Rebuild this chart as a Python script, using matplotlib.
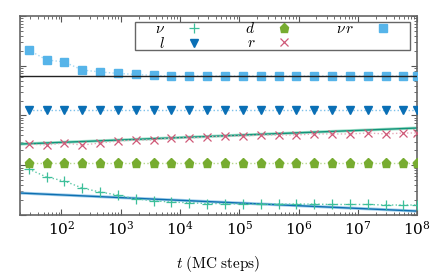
import matplotlib
matplotlib.use("Agg")
import matplotlib.pyplot as plt
from matplotlib.patches import Rectangle
import numpy as np

plt.rcParams['mathtext.fontset'] = 'cm'
plt.rcParams['font.family'] = 'serif'
plt.rcParams['font.serif'] = ['DejaVu Serif']

# data
t = [28, 56, 112, 224, 448, 896, 1792, 3584, 7168, 14336, 28672, 57344,
     114688, 229376, 458752, 917504, 1835008, 3670016, 7340032, 14680064,
     29360128, 58720256, 1e8]

nu_r = [2.07, 1.31, 1.19, 0.82, 0.75, 0.70, 0.667, 0.637, 0.622, 0.622, 0.622, 0.622,
        0.622, 0.622, 0.622, 0.622, 0.622, 0.622, 0.622, 0.622, 0.622, 0.622, 0.622]
l_vals = [0.129] * 23
d_vals = [0.0111] * 23
r_vals = [0.0267, 0.0255, 0.0280, 0.0255, 0.0280, 0.0307, 0.0322, 0.0322, 0.0353, 0.0353,
          0.0370, 0.0388, 0.0388, 0.0406, 0.0406, 0.0406, 0.0426, 0.0426, 0.0426, 0.0445,
          0.0426, 0.0445, 0.0445]
nu_vals = [8.41e-3, 5.81e-3, 4.82e-3, 3.49e-3, 2.90e-3, 2.52e-3, 2.10e-3, 1.94e-3, 1.82e-3,
           1.77e-3, 1.70e-3, 1.70e-3, 1.66e-3, 1.66e-3, 1.66e-3, 1.66e-3, 1.66e-3, 1.63e-3,
           1.63e-3, 1.63e-3, 1.59e-3, 1.59e-3, 1.59e-3]

# reference lines
ref_level = 0.622
fit_t = [20, 1e8]
fit_r = [0.0267, 0.0561]
fit_nu = [2.77e-3, 1.20e-3]

fig = plt.figure(figsize=(4.4, 2.75), dpi=100)
ax = fig.add_axes([0.0455, 0.218, 0.9025, 0.724])

c_nu = '#3dbf9a'
c_l = '#0a6fb5'
c_d = '#77ac30'
c_r = '#cf5a78'
c_nur = '#56b4e9'

ax.axhline(ref_level, color='#222222', lw=1.0, zorder=5)
ax.plot(fit_t, fit_r, color='#9fe0c8', lw=2.2, zorder=2)
ax.plot(fit_t, fit_r, color='#12937a', lw=1.0, zorder=2)
ax.plot(fit_t, fit_nu, color='#9fcdeb', lw=2.2, zorder=2)
ax.plot(fit_t, fit_nu, color='#0d6fb0', lw=1.0, zorder=2)

ax.plot(t, nu_vals, ls=':', color='#5fc9a8', lw=1.0, zorder=3)
ax.plot(t, l_vals, ls=':', color='#7cc0ea', lw=1.0, zorder=3)
ax.plot(t, d_vals, ls=':', color='#b5d88a', lw=1.0, zorder=3)
ax.plot(t, r_vals, ls=':', color='#e5a8b8', lw=1.0, zorder=3)
ax.plot(t, nu_r, ls=':', color='#a6d8f3', lw=1.0, zorder=3)

ax.plot(t, nu_vals, ls='none', marker='+', ms=7, mew=0.9, color=c_nu, label=r'$\nu$', zorder=4)
ax.plot(t, l_vals, ls='none', marker='v', ms=6, color=c_l, label=r'$l$', zorder=4)
ax.plot(t, d_vals, ls='none', marker='p', ms=6.5, color=c_d, label=r'$d$', zorder=4)
ax.plot(t, r_vals, ls='none', marker='x', ms=6, mew=0.9, color=c_r, label=r'$r$', zorder=4)
ax.plot(t, nu_r, ls='none', marker='s', ms=6, color=c_nur, label=r'$\nu\,r$', zorder=4)

ax.set_xscale('log')
ax.set_yscale('log')
ax.set_xlim(20, 1e8)
ax.set_ylim(1e-3, 10)
ax.set_xticks([1e2, 1e3, 1e4, 1e5, 1e6, 1e7, 1e8])
ax.yaxis.set_major_formatter(matplotlib.ticker.NullFormatter())
ax.yaxis.set_minor_formatter(matplotlib.ticker.NullFormatter())
ax.tick_params(which='both', direction='in', top=True, right=True, labelsize=11, colors='#555555', labelcolor='black')
ax.tick_params(which='major', length=4)
ax.tick_params(which='minor', length=2)
for s in ax.spines.values():
    s.set_color('#666666')
    s.set_linewidth(1.2)

ax.set_xlabel(r'$t\;\mathrm{(MC\ steps)}$', fontsize=11, labelpad=12)

# legend frame drawn separately so its padding can be set freely
box = Rectangle((0.2897, 0.829), 0.6927, 0.141, transform=ax.transAxes,
                facecolor='white', edgecolor='#666666', lw=1.0, zorder=6)
ax.add_patch(box)
leg = ax.legend(ncol=3, loc='upper right', bbox_to_anchor=(0.943, 0.975), markerfirst=False,
                frameon=False, fontsize=11,
                borderpad=0, labelspacing=0.0, handletextpad=1.15, columnspacing=2.6,
                handlelength=1.5, borderaxespad=0)
leg.set_zorder(7)

fig.savefig('out.png', dpi=100)
